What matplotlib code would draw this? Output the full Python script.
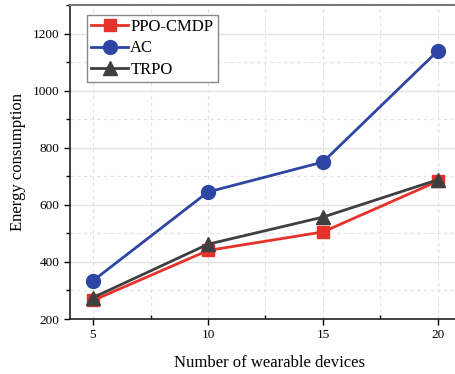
import matplotlib
matplotlib.use("Agg")
import matplotlib.pyplot as plt
from matplotlib.ticker import MultipleLocator

devices = [5, 10, 15, 20]
ppo_cmdp = [265, 440, 505, 683]
ac = [334, 645, 750, 1140]
trpo = [275, 462, 557, 688]

plt.rcParams["font.family"] = ["Liberation Serif", "DejaVu Serif"]

fig = plt.figure(figsize=(4.55, 3.74), dpi=100)
# axes run past the right edge, the reference is cropped there
ax = fig.add_axes([70 / 455, 55 / 374, 400 / 455, 314 / 374])

ax.plot(devices, ppo_cmdp, color="#e5322b", lw=2.0, marker="s", ms=9, label="PPO-CMDP", zorder=3)
ax.plot(devices, ac, color="#2e45a3", lw=2.0, marker="o", ms=10, label="AC", zorder=3)
ax.plot(devices, trpo, color="#3f3f3f", lw=2.0, marker="^", ms=10, label="TRPO", zorder=4)

ax.set_xlim(4, 4 + 400 / 23)
ax.set_ylim(200, 1300)
ax.set_xticks(devices)
ax.xaxis.set_minor_locator(MultipleLocator(2.5))
ax.yaxis.set_minor_locator(MultipleLocator(100))
ax.set_yticks([200, 400, 600, 800, 1000, 1200])

ax.grid(which="major", axis="y", color="#e3e3e3", lw=1.0, ls="-")
ax.grid(which="major", axis="x", color="#dddddd", lw=0.8, ls=(0, (3, 3)))
ax.grid(which="minor", color="#e3e3e3", lw=0.8, ls=(0, (3, 3)))
ax.set_axisbelow(True)

ax.tick_params(axis="both", which="major", labelsize=9.5, length=4, width=1, direction="out")
ax.tick_params(axis="y", which="minor", length=3, width=1, direction="out")
ax.tick_params(axis="x", which="minor", length=3, width=1, direction="in")

for side in ("left", "bottom"):
    ax.spines[side].set_linewidth(1.2)
    ax.spines[side].set_color("#222222")
ax.spines["top"].set_color("#777777")
ax.spines["top"].set_linewidth(1.5)
ax.spines["right"].set_visible(False)

ax.set_xlabel("Number of wearable devices", fontsize=12, labelpad=10)
ax.set_ylabel("Energy consumption", fontsize=12, labelpad=5)

leg = ax.legend(loc="upper left", bbox_to_anchor=(17 / 400, 304 / 314), borderaxespad=0,
                fontsize=12, handlelength=2.2, handletextpad=0.15, borderpad=0.25,
                labelspacing=0.32, fancybox=False, framealpha=1)
leg.get_frame().set_edgecolor("#888888")
leg.get_frame().set_linewidth(1.0)

fig.savefig("out.png", dpi=100)
